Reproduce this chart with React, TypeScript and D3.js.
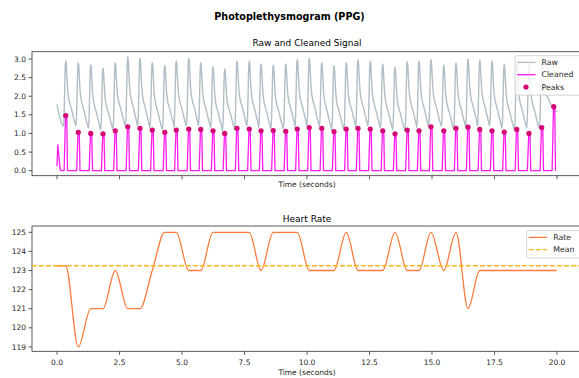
import React, { useEffect, useRef } from 'react';
import * as d3 from 'd3';

// peak times (s)
const PEAK_TIMES = [
  0.35, 0.85, 1.35, 1.84, 2.33, 2.83, 3.32, 3.81, 4.31, 4.77,
  5.27, 5.75, 6.24, 6.71, 7.2, 7.69, 8.16, 8.65, 9.15, 9.61,
  10.09, 10.59, 11.08, 11.57, 12.04, 12.53, 13.03, 13.52, 14.01, 14.48,
  14.96, 15.47, 15.96, 16.44, 16.91, 17.4, 17.89, 18.39, 18.88, 19.39, 19.87,
];
// cleaned amplitude at each peak
const PEAK_VALUES = [
  1.48, 1.03, 1.0, 0.99, 1.07, 1.18, 1.14, 1.09, 1.03, 1.09,
  1.12, 1.11, 1.07, 1.0, 1.14, 1.12, 1.07, 1.08, 1.06, 1.12,
  1.16, 1.14, 1.05, 1.12, 1.14, 1.12, 1.07, 0.99, 1.09, 1.07,
  1.18, 1.07, 1.14, 1.17, 1.11, 1.07, 1.04, 1.11, 1.0, 1.16, 1.72,
];
// raw systolic peaks and the trough before each (beats 1..40)
const RAW_PEAKS = [
  2.95, 2.91, 2.84, 2.75, 2.9, 3.06, 3.02, 2.9, 2.83, 2.95,
  3.02, 2.9, 2.79, 2.73, 2.95, 2.95, 2.87, 2.84, 2.87, 2.99,
  3.02, 2.9, 2.82, 2.9, 2.99, 2.95, 2.87, 2.78, 2.93, 2.95,
  2.99, 2.84, 2.9, 3.0, 2.97, 2.95, 2.86, 2.9, 2.85, 2.92,
];
const RAW_TROUGHS = [
  1.2, 1.2, 1.15, 1.1, 1.1, 1.2, 1.2, 1.15, 1.1, 1.15,
  1.2, 1.2, 1.15, 1.05, 1.1, 1.2, 1.15, 1.12, 1.12, 1.15,
  1.2, 1.2, 1.1, 1.08, 1.15, 1.2, 1.15, 1.1, 1.05, 1.15,
  1.15, 1.2, 1.1, 1.15, 1.2, 1.2, 1.15, 1.1, 1.15, 1.15,
];
// one beat's shape: [offset from peak (s), fraction of peak-to-trough]
const BEAT_RISE = [[-0.09, 0], [-0.065, 0.18], [-0.04, 0.6], [-0.018, 0.93], [0, 1]];
const BEAT_FALL = [[0.02, 0.95], [0.045, 0.76], [0.08, 0.54], [0.12, 0.42], [0.17, 0.34], [0.23, 0.26], [0.29, 0.16], [0.35, 0.07]];
const RAW_HEAD = [[0, 1.78], [0.12, 1.42]];
const RAW_TAIL = [[19.6, 2.0], [19.8, 1.72], [19.99, 1.58]];
// cleaned pulse shape around each peak
const PULSE = [[-0.065, 0], [-0.01, 1], [0.04, 1], [0.07, 0]];
const CLEAN_HEAD = [[0, 0.12], [0.03, 0.7], [0.13, 0.03], [0.18, 0]];

// heart rate at each peak (bpm)
const RATES = [
  123.25, 119, 121, 121, 123, 121, 121, 123, 125, 125,
  123, 123, 125, 125, 125, 125, 123, 125, 125, 125,
  123, 123, 123, 125, 123, 123, 123, 125, 123, 123,
  125, 123, 125, 121, 123, 123, 123, 123, 123, 123, 123,
];
const RATE_MEAN = 123.25;

const X_TICKS = [0, 2.5, 5, 7.5, 10, 12.5, 15, 17.5, 20];
const Y_TICKS_TOP = [0, 0.5, 1, 1.5, 2, 2.5, 3];
const Y_TICKS_BOTTOM = [119, 120, 121, 122, 123, 124, 125];

const W = 579;
const H = 378;
const FONT = 'DejaVu Sans, sans-serif';

export default function App() {
  const svgRef = useRef<SVGSVGElement>(null);

  useEffect(() => {
    const svg = d3.select(svgRef.current);
    svg.selectAll('*').remove();

    const left = 32, right = 582;
    const x = d3.scaleLinear().domain([-1, 21]).range([left, right]);
    const yTop = d3.scaleLinear().domain([-0.134, 3.196]).range([175.7, 51.7]);
    const yBot = d3.scaleLinear().domain([118.77, 125.33]).range([351.3, 226]);

    svg.append('text').attr('x', W / 2).attr('y', 20).attr('text-anchor', 'middle')
      .attr('font-family', FONT).attr('font-size', 9.6).attr('font-weight', 'bold').attr('fill', '#000')
      .text('Photoplethysmogram (PPG)');

    const drawAxes = (y: d3.ScaleLinear<number, number>, yTicks: number[], fmt: (d: number) => string,
      title: string, titleY: number, xLabels: boolean, xLabelY: number) => {
      const [bottom, top] = y.range();
      const g = svg.append('g');
      g.append('rect').attr('x', left).attr('y', top).attr('width', right - left).attr('height', bottom - top)
        .attr('fill', 'none').attr('stroke', '#333').attr('stroke-width', 0.8);
      X_TICKS.forEach(t => {
        g.append('line').attr('x1', x(t)).attr('x2', x(t)).attr('y1', bottom).attr('y2', bottom + 3.5)
          .attr('stroke', '#333').attr('stroke-width', 0.8);
        if (xLabels) {
          g.append('text').attr('x', x(t)).attr('y', bottom + 13.5).attr('text-anchor', 'middle')
            .attr('font-family', FONT).attr('font-size', 7.5).attr('fill', '#262626').text(t.toFixed(1));
        }
      });
      yTicks.forEach(t => {
        g.append('line').attr('x1', left - 3.5).attr('x2', left).attr('y1', y(t)).attr('y2', y(t))
          .attr('stroke', '#333').attr('stroke-width', 0.8);
        g.append('text').attr('x', left - 6).attr('y', y(t)).attr('dy', '0.35em').attr('text-anchor', 'end')
          .attr('font-family', FONT).attr('font-size', 7.5).attr('fill', '#262626').text(fmt(t));
      });
      g.append('text').attr('x', (left + right) / 2).attr('y', titleY).attr('text-anchor', 'middle')
        .attr('font-family', FONT).attr('font-size', 9).attr('fill', '#000').text(title);
      g.append('text').attr('x', (left + right) / 2).attr('y', xLabelY).attr('text-anchor', 'middle')
        .attr('font-family', FONT).attr('font-size', 7.5).attr('fill', '#262626').text('Time (seconds)');
    };

    drawAxes(yTop, Y_TICKS_TOP, d => d.toFixed(1), 'Raw and Cleaned Signal', 46, false, 187);
    drawAxes(yBot, Y_TICKS_BOTTOM, d => String(d), 'Heart Rate', 222, true, 375);

    // Raw signal
    const raw: [number, number][] = RAW_HEAD.map(d => [d[0], d[1]]);
    RAW_PEAKS.forEach((P, i) => {
      const tp = PEAK_TIMES[i];
      const T = RAW_TROUGHS[i];
      const last = i === RAW_PEAKS.length - 1;
      const Tn = last ? T : RAW_TROUGHS[i + 1];
      BEAT_RISE.forEach(([dt, f]) => raw.push([tp + dt, T + f * (P - T)]));
      BEAT_FALL.filter(([dt]) => !last || dt <= 0.08)
        .forEach(([dt, f]) => raw.push([tp + dt, Tn + f * (P - Tn)]));
    });
    RAW_TAIL.forEach(d => raw.push([d[0], d[1]]));

    const lineTop = d3.line<[number, number]>().x(d => x(d[0])).y(d => yTop(d[1]));
    svg.append('path').attr('d', lineTop.curve(d3.curveMonotoneX)(raw))
      .attr('fill', 'none').attr('stroke', '#B0BEC5').attr('stroke-width', 1.4);

    // Cleaned signal
    const clean: [number, number][] = CLEAN_HEAD.map(d => [d[0], d[1]]);
    PEAK_TIMES.forEach((tp, i) => {
      PULSE.forEach(([dt, f]) => clean.push([Math.min(tp + dt, 19.99), f * PEAK_VALUES[i]]));
    });
    svg.append('path').attr('d', lineTop.curve(d3.curveLinear)(clean))
      .attr('fill', 'none').attr('stroke', '#FB1CF0').attr('stroke-width', 1.3);

    // Peaks
    svg.append('g').selectAll('circle').data(PEAK_TIMES).join('circle')
      .attr('cx', d => x(d)).attr('cy', (d, i) => yTop(PEAK_VALUES[i])).attr('r', 2.6)
      .attr('fill', '#D60574');

    // Heart rate
    const rate: [number, number][] = [[0, RATES[0]], ...PEAK_TIMES.map((t, i) => [t, RATES[i]] as [number, number]),
      [19.99, RATES[RATES.length - 1]]];
    svg.append('path')
      .attr('d', d3.line<[number, number]>().x(d => x(d[0])).y(d => yBot(d[1])).curve(d3.curveMonotoneX)(rate))
      .attr('fill', 'none').attr('stroke', '#FB7A3C').attr('stroke-width', 1.3);
    svg.append('line').attr('x1', left).attr('x2', right).attr('y1', yBot(RATE_MEAN)).attr('y2', yBot(RATE_MEAN))
      .attr('stroke', '#FBB41C').attr('stroke-width', 1.3).attr('stroke-dasharray', '4.8,2.2');

    // Legends
    const legend = (lx: number, ly: number, lw: number, items: { label: string, kind: string, color: string }[]) => {
      const g = svg.append('g');
      g.append('rect').attr('x', lx).attr('y', ly).attr('width', lw).attr('height', items.length * 12.3 + 2.5)
        .attr('rx', 2).attr('fill', 'white').attr('fill-opacity', 0.8).attr('stroke', '#cccccc').attr('stroke-width', 0.8);
      items.forEach((it, i) => {
        const cy = ly + 6.7 + i * 12.3;
        if (it.kind === 'dot') {
          g.append('circle').attr('cx', lx + 11).attr('cy', cy).attr('r', 2.6).attr('fill', it.color);
        } else {
          g.append('line').attr('x1', lx + 2).attr('x2', lx + 20.5).attr('y1', cy).attr('y2', cy)
            .attr('stroke', it.color).attr('stroke-width', 1.3)
            .attr('stroke-dasharray', it.kind === 'dash' ? '4.8,2.2' : null);
        }
        g.append('text').attr('x', lx + 26.5).attr('y', cy).attr('dy', '0.35em')
          .attr('font-family', FONT).attr('font-size', 7.8).attr('fill', '#262626').text(it.label);
      });
    };
    legend(515, 55.7, 66, [
      { label: 'Raw', kind: 'line', color: '#B0BEC5' },
      { label: 'Cleaned', kind: 'line', color: '#FB1CF0' },
      { label: 'Peaks', kind: 'dot', color: '#D60574' },
    ]);
    legend(526.7, 230.7, 56, [
      { label: 'Rate', kind: 'line', color: '#FB7A3C' },
      { label: 'Mean', kind: 'dash', color: '#FBB41C' },
    ]);
  }, []);

  return (
    <svg ref={svgRef} width={W} height={H}
      style={{ position: 'fixed', left: 0, top: 0, display: 'block', background: '#fff' }} />
  );
}
